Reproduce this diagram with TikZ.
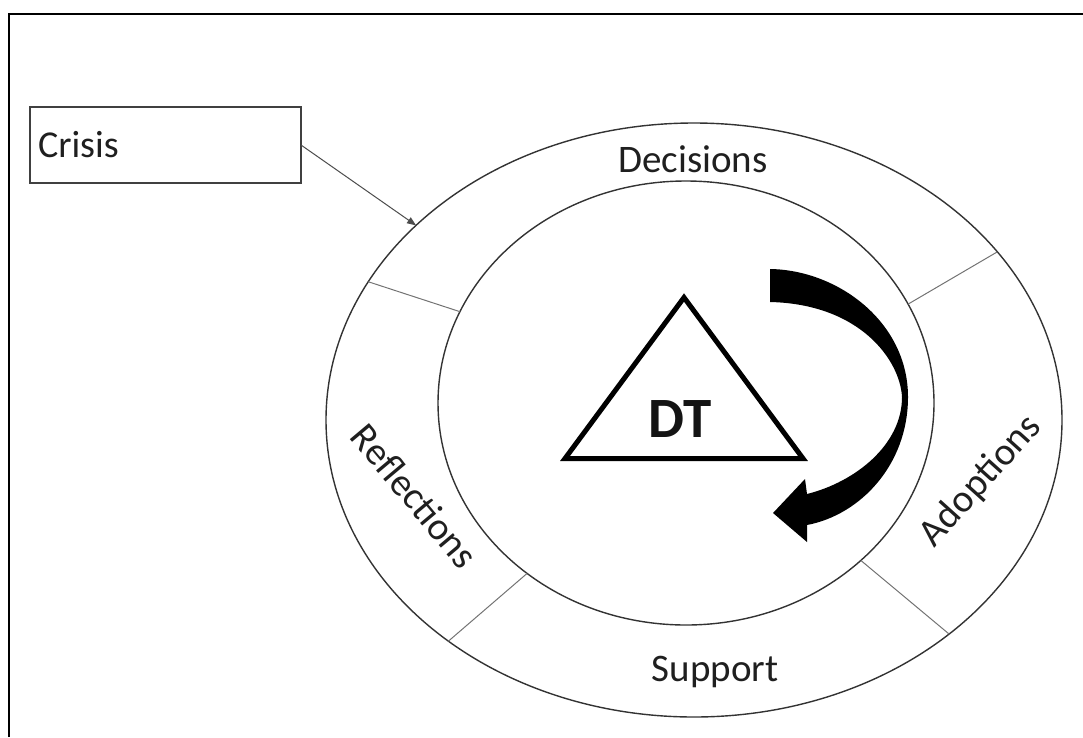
\documentclass[tikz,border=0pt]{standalone}
\usepackage{fontspec}
\setmainfont{Carlito}
\usetikzlibrary{shapes.geometric,arrows.meta}
\begin{document}
\begin{tikzpicture}[x=1pt,y=-1pt,
  ring/.style={ellipse, draw=black!80, line width=1.4pt, inner sep=0pt, outer sep=0pt},
  divider/.style={draw=black!55, line width=1pt},
  label/.style={font=\fontsize{39}{47}\selectfont, text=black!88, inner sep=0pt},
  box/.style={draw=black!75, line width=1.6pt, minimum width=271pt, minimum height=76pt,
    inner sep=0pt, outer sep=0pt, text width=255pt, align=left,
    font=\fontsize{38}{46}\selectfont, text=black!88},
  feed/.style={draw=black!70, line width=1pt, -{Triangle[length=9pt,width=7pt]}}]
\useasboundingbox (0,0) rectangle (1083,737);

% page frame (left and top edges)
\draw[line width=2pt] (8.5,737) -- (8.5,13.5) -- (1083,13.5);

% the two rings
\node[ring, minimum width=736pt, minimum height=594pt] (outer) at (694,420) {};
\node[ring, minimum width=496pt, minimum height=444pt] (inner) at (686,403) {};

% separators between the four segments of the band
\draw[divider] (outer.157) -- (inner.158);
\draw[divider] (outer.29.4) -- (inner.24.1);
\draw[divider] (outer.-40) -- (inner.-42.9);
\draw[divider] (outer.222.3) -- (inner.227.6);

% segment labels
\node[label, anchor=base] (decisions) at (693,172) {Decisions};
\node[label, anchor=base] (support) at (715,681) {Support};
\node[label, rotate=-50] (reflections) at (415,496) {Reflections};
\node[label, rotate=48] (adoptions) at (981,481) {Adoptions};

% crisis input
\node[box] (crisis) at (165.5,145) {Crisis};
\draw[feed] (crisis.east) -- (outer.145.2);

% central triangle
\coordinate (apex) at (684,297.5);
\coordinate (bl) at (565,458.5);
\coordinate (br) at (803,458.5);
\draw[line width=5pt, line join=miter] (apex) -- (br) -- (bl) -- cycle;
\node[font=\fontsize{57}{66}\selectfont\bfseries, text=black!92, inner sep=0pt, anchor=base] (dt) at (680,437) {DT};

% curved black arrow
\fill[black]
  (770,269) .. controls (838,270) and (908,322) .. (908,397)
  .. controls (908,465) and (860,515) .. (807,525)
  -- (807,542) -- (773,513) -- (805,479) -- (807,494)
  .. controls (855,482) and (902,445) .. (902,397)
  .. controls (900,360) and (860,304) .. (770,302) -- cycle;
\end{tikzpicture}
\end{document}
